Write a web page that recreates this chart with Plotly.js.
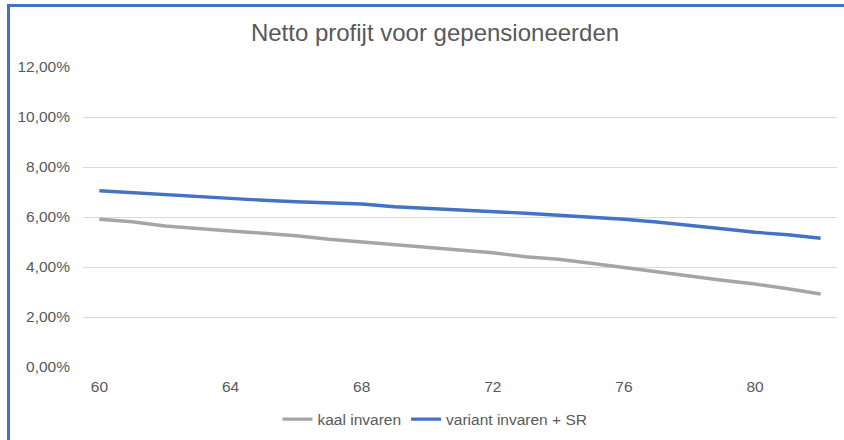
<!DOCTYPE html>
<html>
<head>
<meta charset="utf-8">
<script src="https://cdn.plot.ly/plotly-3.0.1.min.js"></script>
<style>
  html, body { margin: 0; padding: 0; background: #fff; }
  #wrap { position: relative; width: 844px; height: 440px; overflow: hidden; }
  #chart { position: absolute; left: 0; top: 0; width: 844px; height: 440px; }
  #frame { position: absolute; left: 7px; top: 4px; width: 840px; height: 440px;
           border-top: 3px solid #4472C4; border-left: 3px solid #4472C4; pointer-events: none; }
</style>
</head>
<body>
<div id="wrap">
  <div id="chart"></div>
  <div id="frame"></div>
</div>
<script>
const ages = [60,61,62,63,64,65,66,67,68,69,70,71,72,73,74,75,76,77,78,79,80,81,82];
const kaalInvaren = [5.91,5.81,5.64,5.53,5.44,5.35,5.25,5.11,5.00,4.88,4.80,4.67,4.57,4.41,4.31,4.15,3.99,3.81,3.64,3.47,3.32,3.13,2.92];
const variantInvarenSR = [7.05,6.97,6.89,6.81,6.75,6.67,6.61,6.56,6.52,6.41,6.35,6.29,6.20,6.15,6.07,6.00,5.91,5.80,5.65,5.53,5.39,5.29,5.15];
const seriesNames = ["kaal invaren", "variant invaren + SR"];
const xTicks = [60,64,68,72,76,80];
const yTicks = [0,0.02,0.04,0.06,0.08,0.10,0.12];
const chartTitle = "Netto profijt voor gepensioneerden";

const traces = [
  { x: ages, y: kaalInvaren.map(v => v / 100), name: seriesNames[0], type: "scatter", mode: "lines",
    line: { color: "#A5A5A5", width: 3.3 } },
  { x: ages, y: variantInvarenSR.map(v => v / 100), name: seriesNames[1], type: "scatter", mode: "lines",
    line: { color: "#4472C4", width: 3.3 } }
];

const font = "Liberation Sans, Arial, sans-serif";
const layout = {
  width: 844, height: 440,
  margin: { l: 83, r: 7, t: 67, b: 73, autoexpand: false },
  paper_bgcolor: "#ffffff", plot_bgcolor: "#ffffff",
  separators: ",.",
  font: { family: font, size: 15.5, color: "#595959" },
  title: { text: chartTitle, font: { family: font, size: 24, color: "#595959" },
           x: 435/844, xanchor: "center", xref: "container", y: 1 - 33/440, yanchor: "middle", yref: "container" },
  xaxis: { range: [59.5, 82.5], tickvals: xTicks, ticktext: xTicks.map(String), showgrid: false,
           zeroline: false, showline: false, ticks: "", ticklabelstandoff: 8,
           tickfont: { family: font, size: 15.5, color: "#595959" } },
  yaxis: { range: [0, 0.12], tickvals: yTicks, tickformat: ".2%", showgrid: true, gridcolor: "#D9D9D9",
           gridwidth: 1, zeroline: false, showline: false, ticks: "", ticklabelstandoff: 12,
           tickfont: { family: font, size: 15.5, color: "#595959" } },
  showlegend: true,
  legend: { orientation: "h", x: (435 - 83) / 754, xanchor: "center", y: -0.175, yanchor: "middle",
            font: { family: font, size: 15.5, color: "#595959" }, traceorder: "normal" }
};

Plotly.newPlot("chart", traces, layout, { displayModeBar: false, staticPlot: true });
</script>
</body>
</html>
